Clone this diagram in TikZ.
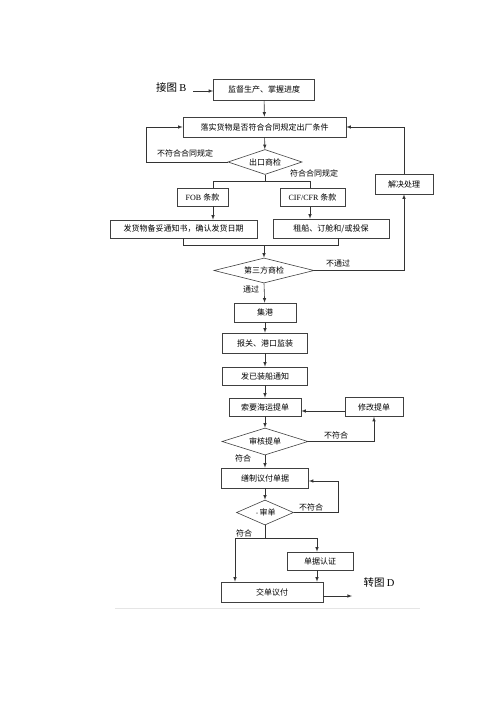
\documentclass[tikz,border=0pt]{standalone}
\usepackage{fontspec}
\newfontfamily\cjk{Noto Sans CJK SC}
\setmainfont{Liberation Serif}
\usetikzlibrary{shapes.geometric}
\tikzset{
  box/.style={draw=black!75, line width=0.6pt, rectangle, inner sep=0pt, font=\cjk\fontsize{8}{9}\selectfont},
  dec/.style={draw=black!75, line width=0.6pt, diamond, aspect=3, inner sep=0pt, font=\cjk\fontsize{8}{9}\selectfont},
  lbl/.style={font=\cjk\fontsize{8}{9}\selectfont, inner sep=1pt},
  line/.style={draw=black!80, line width=0.6pt},
}
\begin{document}
\begin{tikzpicture}[>=latex, x=1pt, y=-1pt]
  \useasboundingbox (0,0) rectangle (500,707);
  % boxes
  \node[box, minimum width=101, minimum height=21] (watch) at (264,89.5) {监督生产、掌握进度};
  \node[box, minimum width=163, minimum height=20] (check) at (264.5,127) {落实货物是否符合合同规定出厂条件};
  \node[dec, minimum width=74, minimum height=25] (exam) at (265,162) {出口商检};
  \node[box, minimum width=58, minimum height=20] (fix) at (404,184) {解决处理};
  \node[box, minimum width=51, minimum height=18] (fob) at (202.5,197) {\rmfamily\fontsize{8}{9}\selectfont FOB \cjk 条款};
  \node[box, minimum width=65, minimum height=18] (cif) at (312.5,197.5) {\rmfamily\fontsize{8}{9}\selectfont CIF/CFR \cjk 条款};
  \node[box, minimum width=147, minimum height=18] (notice) at (183.5,229) {发货物备妥通知书，确认发货日期};
  \node[box, minimum width=116, minimum height=19] (ship) at (331,228.5) {租船、订舱和/或投保};
  \node[dec, minimum width=100, minimum height=25] (third) at (264,270.5) {第三方商检};
  \node[box, minimum width=62, minimum height=19] (port) at (265,312.5) {集港};
  \node[box, minimum width=85, minimum height=20] (customs) at (265,343) {报关、港口监装};
  \node[box, minimum width=85, minimum height=18] (sent) at (265,376) {发已装船通知};
  \node[box, minimum width=72, minimum height=18] (bill) at (265,407) {索要海运提单};
  \node[box, minimum width=58, minimum height=19] (amend) at (374,407) {修改提单};
  \node[dec, minimum width=86, minimum height=27] (audit) at (265,441.5) {审核提单};
  \node[box, minimum width=87, minimum height=20] (docs) at (265,478) {缮制议付单据};
  \node[dec, minimum width=57, minimum height=25] (recheck) at (265,512.5) {{\fontsize{5}{5}\selectfont•}审单};
  \node[box, minimum width=66, minimum height=18] (cert) at (320,561) {单据认证};
  \node[box, minimum width=102, minimum height=20] (pay) at (272,592) {交单议付};
  % outside labels
  \node[font=\cjk\fontsize{10.5}{12}\selectfont, anchor=east] (inB) at (190,88) {接图 {\rmfamily B}};
  \node[font=\cjk\fontsize{10.5}{12}\selectfont] (outD) at (379,583) {转图 {\rmfamily D}};
  % helper points
  \coordinate (inB1) at (193,91);
  \coordinate (fobx) at (213,181);
  \coordinate (cifx) at (310,181);
  \coordinate (notx) at (183,245);
  \coordinate (shpx) at (338,245);
  \coordinate (join1) at (264,245);
  \coordinate (loop1) at (146,162);
  \coordinate (nopass) at (404,270.5);
  \coordinate (loop2) at (338,512.5);
  \coordinate (loop2t) at (338,481);
  \coordinate (split2) at (265,538);
  \coordinate (payx) at (235,538);
  \coordinate (certx) at (317,538);
  \coordinate (outD1) at (352,596);
  % connectors
  \draw[line,->] (inB1) -- (inB1 -| watch.west);
  \draw[line,->] (watch) -- (check);
  \draw[line,->] (check) -- (exam);
  \draw[line,->] (exam.west) -- (loop1) |- (check.west);
  \node[lbl] at (185,153) {不符合合同规定};
  \draw[line,->] (fix.north) |- (check.east);
  \draw[line] (exam.south) -- (exam.south |- fobx);
  \draw[line] (fobx |- fob.north) -- (fobx) -- (cifx) -- (cifx |- cif.north);
  \node[lbl] at (314,173) {符合合同规定};
  \draw[line,->] (fobx |- fob.south) -- (fobx |- notice.north);
  \draw[line,->] (cifx |- cif.south) -- (cifx |- ship.north);
  \draw[line] (notx |- notice.south) -- (notx) -- (shpx) -- (shpx |- ship.south);
  \draw[line,->] (join1) -- (third.north);
  \draw[line,->] (third.east) -- (nopass) -- (fix.south);
  \node[lbl] at (338,263) {不通过};
  \draw[line,->] (third.south) -- (port);
  \node[lbl] at (251,289) {通过};
  \draw[line,->] (port) -- (customs);
  \draw[line,->] (customs) -- (sent);
  \draw[line,->] (sent) -- (bill);
  \draw[line,->] ([yshift=-4]amend.west) -- ([yshift=-4]bill.east);
  \draw[line,->] (bill) -- (audit);
  \draw[line,->] (audit.east) -| (amend.south);
  \node[lbl] at (336,435) {不符合};
  \node[lbl] at (243,458) {符合};
  \draw[line,->] (audit) -- (docs);
  \draw[line,->] (docs) -- (recheck);
  \draw[line,->] (recheck.east) -- (loop2) -- (loop2t) -- (loop2t -| docs.east);
  \node[lbl] at (311,507) {不符合};
  \draw[line] (recheck.south) -- (split2);
  \draw[line,->] (payx) -- (payx |- pay.north);
  \draw[line,->] (payx) -- (certx) -- (certx |- cert.north);
  \node[lbl] at (244,533) {符合};
  \draw[line,->] (certx |- cert.south) -- (certx |- pay.north);
  \draw[line,->] (outD1 -| pay.east) -- (outD1);
  % page rule
  \draw[black!10, line width=0.5pt] (115,608) -- (420,608);
\end{tikzpicture}
\end{document}
